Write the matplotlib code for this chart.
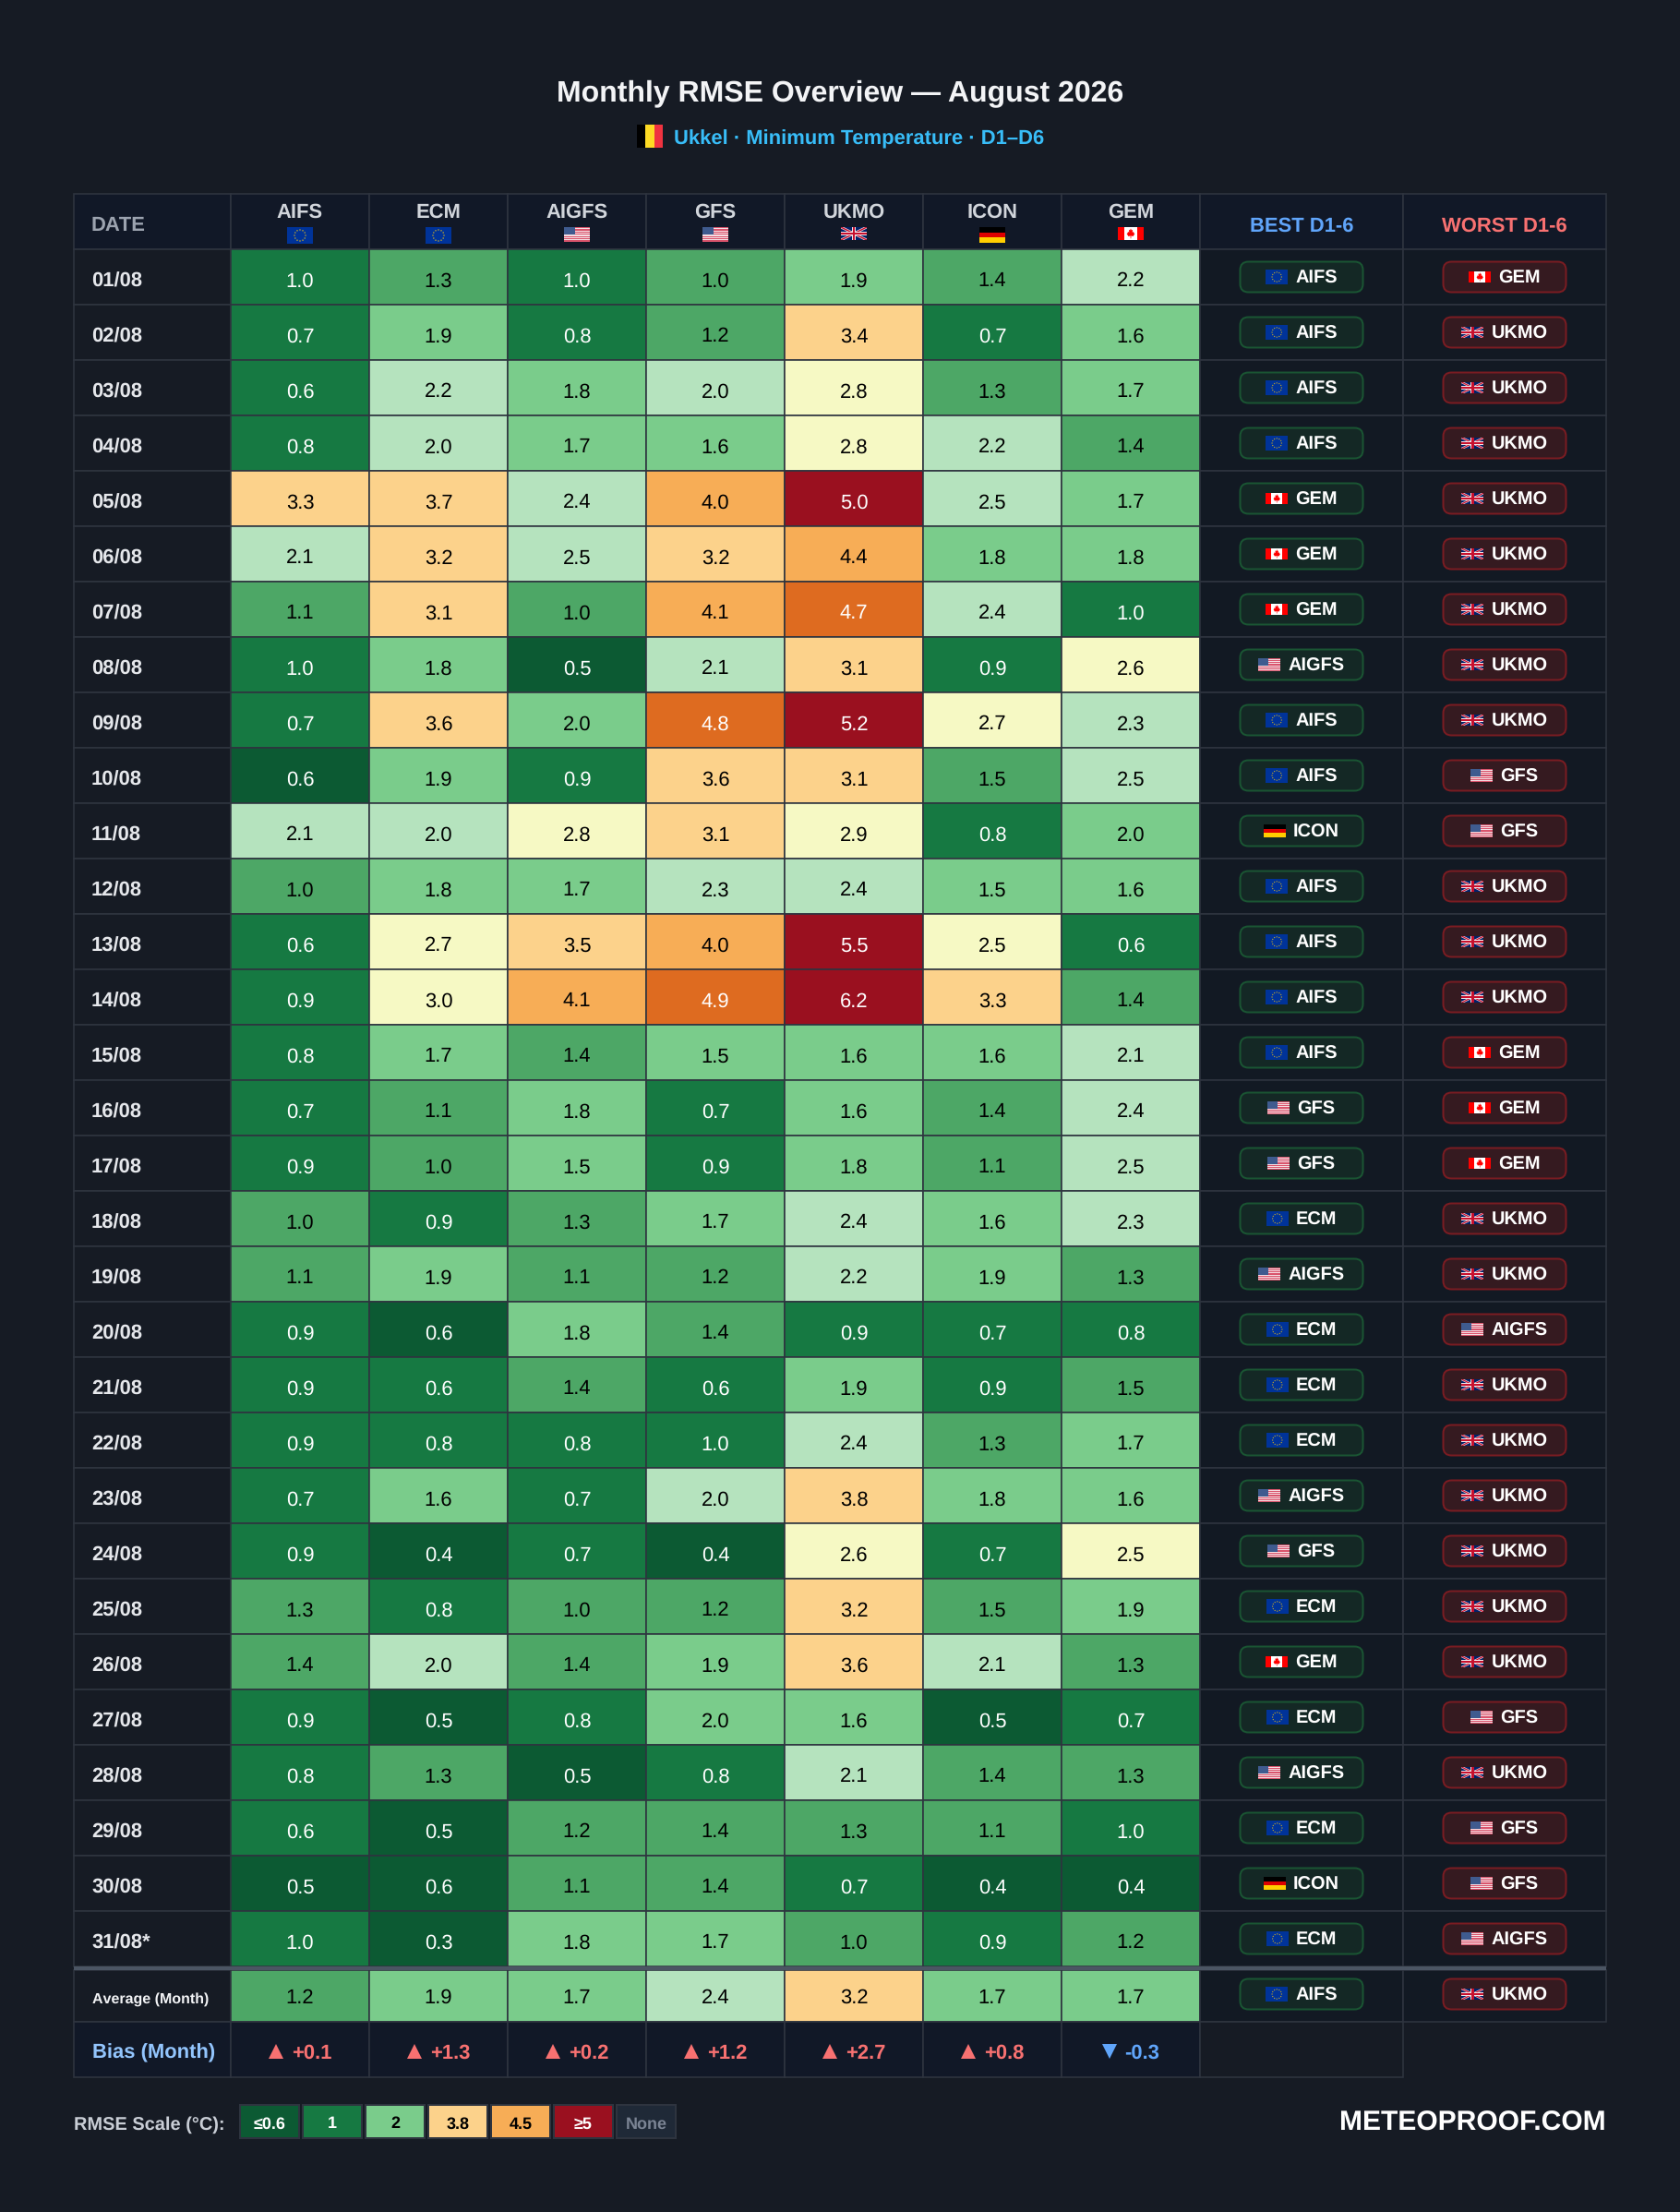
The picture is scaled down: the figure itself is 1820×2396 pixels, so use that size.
import numpy as np

from matplotlib import pyplot as plt
from matplotlib import rc
from matplotlib.patches import Circle, FancyBboxPatch, Polygon, Rectangle

rc('font', family=['Liberation Sans', 'DejaVu Sans'])
rc('text', hinting='no_hinting', hinting_factor=1)

DPI = 100
BG = '#161b24'
HEAD_BG = '#111827'
SIDE_BG = '#121923'
GRID = '#2e343f'

MODELS = ['AIFS', 'ECM', 'AIGFS', 'GFS', 'UKMO', 'ICON', 'GEM']
MODEL_FLAG = {'AIFS': 'eu', 'ECM': 'eu', 'AIGFS': 'us', 'GFS': 'us',
              'UKMO': 'uk', 'ICON': 'de', 'GEM': 'ca'}

DATES = ['01/08', '02/08', '03/08', '04/08', '05/08', '06/08', '07/08', '08/08',
         '09/08', '10/08', '11/08', '12/08', '13/08', '14/08', '15/08', '16/08',
         '17/08', '18/08', '19/08', '20/08', '21/08', '22/08', '23/08', '24/08',
         '25/08', '26/08', '27/08', '28/08', '29/08', '30/08', '31/08*']

AIFS = [1.0, 0.7, 0.6, 0.8, 3.3, 2.1, 1.1, 1.0, 0.7, 0.6, 2.1, 1.0, 0.6, 0.9, 0.8, 0.7,
        0.9, 1.0, 1.1, 0.9, 0.9, 0.9, 0.7, 0.9, 1.3, 1.4, 0.9, 0.8, 0.6, 0.5, 1.0]
ECM = [1.3, 1.9, 2.2, 2.0, 3.7, 3.2, 3.1, 1.8, 3.6, 1.9, 2.0, 1.8, 2.7, 3.0, 1.7, 1.1,
       1.0, 0.9, 1.9, 0.6, 0.6, 0.8, 1.6, 0.4, 0.8, 2.0, 0.5, 1.3, 0.5, 0.6, 0.3]
AIGFS = [1.0, 0.8, 1.8, 1.7, 2.4, 2.5, 1.0, 0.5, 2.0, 0.9, 2.8, 1.7, 3.5, 4.1, 1.4, 1.8,
         1.5, 1.3, 1.1, 1.8, 1.4, 0.8, 0.7, 0.7, 1.0, 1.4, 0.8, 0.5, 1.2, 1.1, 1.8]
GFS = [1.0, 1.2, 2.0, 1.6, 4.0, 3.2, 4.1, 2.1, 4.8, 3.6, 3.1, 2.3, 4.0, 4.9, 1.5, 0.7,
       0.9, 1.7, 1.2, 1.4, 0.6, 1.0, 2.0, 0.4, 1.2, 1.9, 2.0, 0.8, 1.4, 1.4, 1.7]
UKMO = [1.9, 3.4, 2.8, 2.8, 5.0, 4.4, 4.7, 3.1, 5.2, 3.1, 2.9, 2.4, 5.5, 6.2, 1.6, 1.6,
        1.8, 2.4, 2.2, 0.9, 1.9, 2.4, 3.8, 2.6, 3.2, 3.6, 1.6, 2.1, 1.3, 0.7, 1.0]
ICON = [1.4, 0.7, 1.3, 2.2, 2.5, 1.8, 2.4, 0.9, 2.7, 1.5, 0.8, 1.5, 2.5, 3.3, 1.6, 1.4,
        1.1, 1.6, 1.9, 0.7, 0.9, 1.3, 1.8, 0.7, 1.5, 2.1, 0.5, 1.4, 1.1, 0.4, 0.9]
GEM = [2.2, 1.6, 1.7, 1.4, 1.7, 1.8, 1.0, 2.6, 2.3, 2.5, 2.0, 1.6, 0.6, 1.4, 2.1, 2.4,
       2.5, 2.3, 1.3, 0.8, 1.5, 1.7, 1.6, 2.5, 1.9, 1.3, 0.7, 1.3, 1.0, 0.4, 1.2]

# the printed values are rounded, the colour came from the raw number, so keep the band
AIFS_BAND = [1, 1, 1, 1, 6, 4, 2, 1, 1, 0, 4, 2, 1, 1, 1, 1,
             1, 2, 2, 1, 1, 1, 1, 1, 2, 2, 1, 1, 1, 0, 1]
ECM_BAND = [2, 3, 4, 4, 6, 6, 6, 3, 6, 3, 4, 3, 5, 5, 3, 2,
            2, 1, 3, 0, 1, 1, 3, 0, 1, 4, 0, 2, 0, 0, 0]
AIGFS_BAND = [1, 1, 3, 3, 4, 4, 2, 0, 3, 1, 5, 3, 6, 7, 2, 3,
              3, 2, 2, 3, 2, 1, 1, 1, 2, 2, 1, 0, 2, 2, 3]
GFS_BAND = [2, 2, 4, 3, 7, 6, 7, 4, 8, 6, 6, 4, 7, 8, 3, 1,
            1, 3, 2, 2, 1, 1, 4, 0, 2, 3, 3, 1, 2, 2, 3]
UKMO_BAND = [3, 6, 5, 5, 9, 7, 8, 6, 9, 6, 5, 4, 9, 9, 3, 3,
             3, 4, 4, 1, 3, 4, 6, 5, 6, 6, 3, 4, 2, 1, 2]
ICON_BAND = [2, 1, 2, 4, 4, 3, 4, 1, 5, 2, 1, 3, 5, 6, 3, 2,
             2, 3, 3, 1, 1, 2, 3, 1, 2, 4, 0, 2, 2, 0, 1]
GEM_BAND = [4, 3, 3, 2, 3, 3, 1, 5, 4, 4, 3, 3, 1, 2, 4, 4,
            4, 4, 2, 1, 2, 3, 3, 5, 3, 2, 1, 2, 1, 0, 2]

AVERAGE = [1.2, 1.9, 1.7, 2.4, 3.2, 1.7, 1.7]
AVERAGE_BAND = [2, 3, 3, 4, 6, 3, 3]
BIAS = [0.1, 1.3, 0.2, 1.2, 2.7, 0.8, -0.3]

BEST = ['AIFS', 'AIFS', 'AIFS', 'AIFS', 'GEM', 'GEM', 'GEM', 'AIGFS', 'AIFS', 'AIFS', 'ICON',
        'AIFS', 'AIFS', 'AIFS', 'AIFS', 'GFS', 'GFS', 'ECM', 'AIGFS', 'ECM', 'ECM', 'ECM',
        'AIGFS', 'GFS', 'ECM', 'GEM', 'ECM', 'AIGFS', 'ECM', 'ICON', 'ECM']
WORST = ['GEM', 'UKMO', 'UKMO', 'UKMO', 'UKMO', 'UKMO', 'UKMO', 'UKMO', 'UKMO', 'GFS', 'GFS',
         'UKMO', 'UKMO', 'UKMO', 'GEM', 'GEM', 'GEM', 'UKMO', 'UKMO', 'AIGFS', 'UKMO', 'UKMO',
         'UKMO', 'UKMO', 'UKMO', 'UKMO', 'GFS', 'UKMO', 'GFS', 'GFS', 'AIGFS']
BEST_MONTH = 'AIFS'
WORST_MONTH = 'UKMO'

BAND_COLORS = ['#0c5a33', '#167942', '#4da766', '#7acc8b', '#b5e3be',
               '#f6f9c4', '#fcd28b', '#f7ad56', '#de6b20', '#9a101f']
WHITE_TEXT_BANDS = [0, 1, 8, 9]

SCALE_LABELS = ['≤0.6', '1', '2', '3.8', '4.5', '≥5', 'None']
SCALE_BANDS = [0, 1, 3, 6, 7, 9, None]

# page layout, in image pixels
COL_X = [80, 250, 400, 550, 700, 850, 1000, 1150, 1300, 1520, 1740]
HEAD_TOP, ROWS_TOP, ROW_H = 210, 270, 60
ROWS_END = ROWS_TOP + ROW_H * len(DATES)
AVG_TOP, AVG_END, BIAS_END = ROWS_END + 4, ROWS_END + 60, ROWS_END + 120

fig = plt.figure(figsize=(18.2, 23.96), dpi=DPI, facecolor=BG)
ax = fig.add_axes([0, 0, 1, 1])
ax.set_xlim(0, 1820)
ax.set_ylim(2396, 0)
ax.axis('off')


def px(size):
    return size * 72 / DPI


def label(x, yc, s, size, color, weight='bold', ha='center'):
    # yc is the middle of the capitals, not of the text box
    return ax.text(x, yc + 0.358 * size, s, fontsize=px(size), color=color, weight=weight,
                   ha=ha, va='baseline')


def text_width(t):
    return t.get_window_extent(fig.canvas.get_renderer()).width


def cell(x0, y0, x1, y1, color, edge=GRID):
    ax.add_patch(Rectangle((x0, y0), x1 - x0, y1 - y0, fc=color, ec=edge, lw=px(1.6), zorder=1))


def bars(x, y, w, h, colors, vertical=True):
    n = len(colors)
    for i, c in enumerate(colors):
        if vertical:
            ax.add_patch(Rectangle((x + w * i / n, y), w / n, h, fc=c, lw=0, zorder=3))
        else:
            ax.add_patch(Rectangle((x, y + h * i / n), w, h / n, fc=c, lw=0, zorder=3))


def flag(name, x, y, w):
    if name == 'eu':
        h = w * 18 / 28
        bars(x, y, w, h, ['#003399'])
        for a in np.linspace(0, 2 * np.pi, 12, endpoint=False):
            ax.add_patch(Circle((x + w / 2 + np.cos(a) * h / 3, y + h / 2 + np.sin(a) * h / 3),
                                w * 0.028, fc='#b8a030', lw=0, zorder=4))
    elif name == 'us':
        h = w * 15.5 / 28
        bars(x, y, w, h, ['#d9546c', '#f5dde2'] * 6 + ['#d9546c'], vertical=False)
        bars(x, y, w * 0.42, h * 7 / 13, ['#3f5b8f'])
    elif name == 'uk':
        h = w * 14 / 28
        bars(x, y, w, h, ['#012169'])
        box = Rectangle((x, y), w, h, transform=ax.transData)
        for lw, c in [(h * 0.2, '#eed9de'), (h * 0.1, '#c8102e')]:
            for ya, yb in [(y, y + h), (y + h, y)]:
                ln, = ax.plot([x, x + w], [ya, yb], color=c, lw=px(lw), solid_capstyle='butt', zorder=4)
                ln.set_clip_path(box)
        for rect in [(x, y + h * 0.33, w, h * 0.34), (x + w / 2 - h * 0.17, y, h * 0.34, h)]:
            ax.add_patch(Rectangle(rect[:2], rect[2], rect[3], fc='#f2e4e8', lw=0, zorder=5))
        for rect in [(x, y + h * 0.4, w, h * 0.2), (x + w / 2 - h * 0.1, y, h * 0.2, h)]:
            ax.add_patch(Rectangle(rect[:2], rect[2], rect[3], fc='#c8102e', lw=0, zorder=6))
    elif name == 'de':
        bars(x, y, w, w * 17 / 28, ['#000000', '#dd0000', '#ffce00'], vertical=False)
    elif name == 'ca':
        h = w / 2
        bars(x, y, w, h, ['#ff0000', '#ffffff', '#ffffff', '#ff0000'])
        leaf = [(0, -0.8), (0.12, -0.5), (0.3, -0.6), (0.24, -0.15), (0.42, -0.3), (0.5, -0.05),
                (0.62, 0.0), (0.38, 0.42), (0.05, 0.35), (0.05, 0.75), (-0.05, 0.75), (-0.05, 0.35),
                (-0.38, 0.42), (-0.62, 0.0), (-0.5, -0.05), (-0.42, -0.3), (-0.24, -0.15),
                (-0.3, -0.6), (-0.12, -0.5)]
        pts = [(x + w / 2 + a * h * 0.5, y + h / 2 + b * h * 0.5) for a, b in leaf]
        ax.add_patch(Polygon(pts, closed=True, fc='#ff0000', lw=0, zorder=4))


def flag_h(name, w):
    return w * {'eu': 18, 'us': 15.5, 'uk': 14, 'de': 17, 'ca': 14}[name] / 28


def pill(xc, yc, model, fill, border):
    ax.add_patch(FancyBboxPatch((xc - 66.5, yc - 16.5), 133, 33,
                                boxstyle='round,pad=0,rounding_size=9',
                                fc=fill, ec=border, lw=px(2), zorder=2))
    name = MODEL_FLAG[model]
    t = label(xc, yc, model, 19.9, '#ffffff', ha='left')
    x0 = xc - (24 + 8 + text_width(t)) / 2
    t.set_x(x0 + 32)
    flag(name, x0, yc - flag_h(name, 24) / 2, 24)


# title
label(910, 98, 'Monthly RMSE Overview — August 2026', 32.3, '#f3f4f6')
bars(689.5, 135, 28.5, 25, ['#000000', '#fdda24', '#ef3340'])
label(730.5, 148, 'Ukkel · Minimum Temperature · D1–D6', 22.3, '#38bdf8', ha='left')

# header row
cell(COL_X[0], HEAD_TOP, COL_X[1], ROWS_TOP, HEAD_BG)
label(COL_X[0] + 19, 242.5, 'DATE', 22, '#9ca3af', ha='left')
for j, model in enumerate(MODELS):
    x0, x1 = COL_X[j + 1], COL_X[j + 2]
    cell(x0, HEAD_TOP, x1, ROWS_TOP, HEAD_BG)
    label((x0 + x1) / 2, 228, model, 22.2, '#d1d5db')
    flag(MODEL_FLAG[model], (x0 + x1) / 2 - 14, 246, 28)
cell(COL_X[8], HEAD_TOP, COL_X[9], ROWS_TOP, HEAD_BG)
cell(COL_X[9], HEAD_TOP, COL_X[10], ROWS_TOP, HEAD_BG)
label((COL_X[8] + COL_X[9]) / 2, 242.5, 'BEST D1-6', 22, '#60a5fa')
label((COL_X[9] + COL_X[10]) / 2, 242.5, 'WORST D1-6', 22, '#f87171')

# daily rows
series = [AIFS, ECM, AIGFS, GFS, UKMO, ICON, GEM]
bands = [AIFS_BAND, ECM_BAND, AIGFS_BAND, GFS_BAND, UKMO_BAND, ICON_BAND, GEM_BAND]


def value_cell(j, y0, y1, value, band, lift=2.5):
    x0, x1 = COL_X[j + 1], COL_X[j + 2]
    cell(x0, y0, x1, y1, BAND_COLORS[band])
    color = '#ffffff' if band in WHITE_TEXT_BANDS else '#000000'
    label((x0 + x1) / 2, (y0 + y1) / 2 + lift, f'{value:.1f}', 22, color, weight='normal')


for i, date in enumerate(DATES):
    y0, y1 = ROWS_TOP + ROW_H * i, ROWS_TOP + ROW_H * (i + 1)
    cell(COL_X[0], y0, COL_X[1], y1, BG)
    label(COL_X[0] + 19, (y0 + y1) / 2 + 2.5, date, 22.2, '#e5e7eb', ha='left')
    for j in range(len(MODELS)):
        value_cell(j, y0, y1, series[j][i], bands[j][i])
    cell(COL_X[8], y0, COL_X[9], y1, SIDE_BG)
    cell(COL_X[9], y0, COL_X[10], y1, SIDE_BG)
    pill((COL_X[8] + COL_X[9]) / 2, (y0 + y1) / 2, BEST[i], '#142825', '#1a5533')
    pill((COL_X[9] + COL_X[10]) / 2, (y0 + y1) / 2, WORST[i], '#351a20', '#7a1c22')

# monthly average
cell(COL_X[0], AVG_TOP, COL_X[1], AVG_END, BG)
label(COL_X[0] + 20, (AVG_TOP + AVG_END) / 2 + 2, 'Average (Month)', 16.3, '#f3f4f6', ha='left')
for j in range(len(MODELS)):
    value_cell(j, AVG_TOP, AVG_END, AVERAGE[j], AVERAGE_BAND[j], lift=0)
cell(COL_X[8], AVG_TOP, COL_X[9], AVG_END, SIDE_BG)
cell(COL_X[9], AVG_TOP, COL_X[10], AVG_END, SIDE_BG)
pill((COL_X[8] + COL_X[9]) / 2, AVG_END - 30, BEST_MONTH, '#142825', '#1a5533')
pill((COL_X[9] + COL_X[10]) / 2, AVG_END - 30, WORST_MONTH, '#351a20', '#7a1c22')
ax.add_patch(Rectangle((COL_X[0], ROWS_END - 0.5), COL_X[10] - COL_X[0], 4.5, fc='#4b5563', lw=0, zorder=2))

# monthly bias, the arrow is a marker because the font's triangle is too small
cell(COL_X[0], AVG_END, COL_X[1], BIAS_END, HEAD_BG)
label(COL_X[0] + 20, AVG_END + 32, 'Bias (Month)', 22, '#93c5fd', ha='left')
for j, b in enumerate(BIAS):
    x0, x1 = COL_X[j + 1], COL_X[j + 2]
    cell(x0, AVG_END, x1, BIAS_END, HEAD_BG)
    s, color, marker = (f'+{b:.1f}', '#f87171', '^') if b > 0 else (f'{b:.1f}', '#60a5fa', 'v')
    t = label(0, AVG_END + 32, s, 22, color, ha='left')
    left = (x0 + x1) / 2 - (16 + 9 + text_width(t)) / 2
    t.set_x(left + 25)
    ax.plot(left + 8, AVG_END + 32, marker, ms=px(16), mfc=color, mew=0, zorder=3)
cell(COL_X[8], AVG_END, COL_X[9], BIAS_END, BG)

# colour scale and site name
label(80, 2300, 'RMSE Scale (°C):', 19.9, '#c9ced6', ha='left')
for k, (s, band) in enumerate(zip(SCALE_LABELS, SCALE_BANDS)):
    x0 = 260 + 68 * k
    fill = '#1f2937' if band is None else BAND_COLORS[band]
    ax.add_patch(Rectangle((x0, 2280), 64, 36, fc=fill, ec=GRID, lw=px(2), zorder=1))
    if band is None:
        color = '#7b8494'
    else:
        color = '#ffffff' if band in WHITE_TEXT_BANDS else '#000000'
    label(x0 + 32, 2299, s, 18, color)
label(1740, 2297, 'METEOPROOF.COM', 29.5, '#ffffff', ha='right')

fig.savefig('out.png', dpi=DPI, facecolor=BG)
